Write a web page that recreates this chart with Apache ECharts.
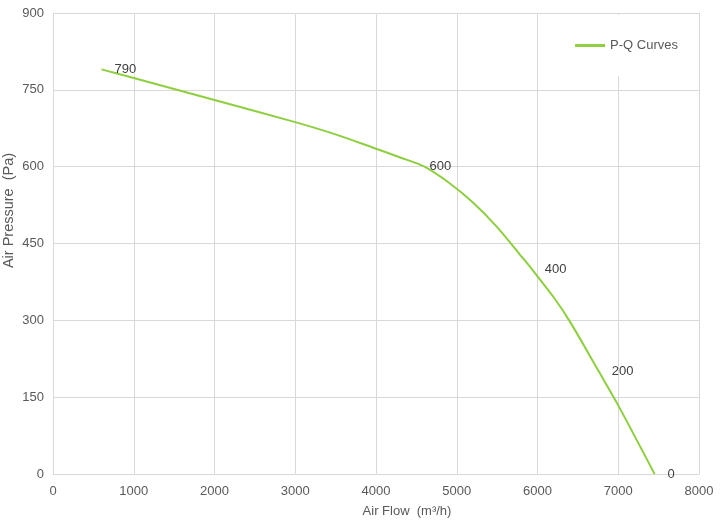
<!DOCTYPE html>
<html>
<head>
<meta charset="utf-8">
<title>P-Q Curves</title>
<script src="https://cdn.jsdelivr.net/npm/echarts@6/dist/echarts.min.js"></script>
<style>
  html, body { margin: 0; padding: 0; background: #fff; }
  #chart { width: 724px; height: 529px; }
</style>
</head>
<body>
<div id="chart"></div>
<script>
// 风量 (m³/h)
var airFlow = [600, 1000, 2000, 3000, 3500, 4000, 4300, 4600, 4900, 5200, 5500, 5800, 5930, 6200, 6400, 6760, 7000, 7450];
// 风压 (Pa)
var airPressure = [790, 773, 730, 687, 663, 635, 618, 600, 569, 530, 482, 425, 400, 345, 298, 200, 134, 0];
// 需要显示数值的点
var labelled = [true, false, false, false, false, false, false, true, false, false, false, false, true, false, false, true, false, true];
var xTicks = [0, 1000, 2000, 3000, 4000, 5000, 6000, 7000, 8000];
var yTicks = [0, 150, 300, 450, 600, 750, 900];

var lineColor = '#8dcf3f';
var textColor = '#595959';
var gridColor = '#d9d9d9';

var chart = echarts.init(document.getElementById('chart'));

var points = airFlow.map(function (x, i) {
  var item = { value: [x, airPressure[i]] };
  if (labelled[i]) {
    item.label = { show: true };
    // 600 这个数字压在曲线上
    if (airPressure[i] === 600) {
      item.label.offset = [-8, 0];
    }
  }
  return item;
});

var option = {
  backgroundColor: '#ffffff',
  animation: false,
  textStyle: { fontFamily: 'Liberation Sans, Arial, sans-serif' },
  grid: {
    left: 53,
    right: 25,
    top: 13,
    bottom: 55,
    containLabel: false,
    outerBoundsMode: 'none'
  },
  legend: {
    right: 26,
    top: 15,
    padding: [24, 20],
    backgroundColor: '#ffffff',
    itemWidth: 30,
    itemHeight: 3,
    itemGap: 5,
    textStyle: { color: textColor, fontSize: 13 },
    data: [{ name: 'P-Q Curves', icon: 'rect' }]
  },
  xAxis: {
    type: 'value',
    min: xTicks[0],
    max: xTicks[xTicks.length - 1],
    interval: xTicks[1] - xTicks[0],
    name: 'Air Flow  (m³/h)',
    nameLocation: 'middle',
    nameGap: 31,
    nameMoveOverlap: false,
    nameTextStyle: { color: textColor, fontSize: 13, padding: [0, 0, 0, 62] },
    axisLine: { lineStyle: { color: gridColor, width: 1 } },
    axisTick: { show: false },
    axisLabel: {
      color: textColor,
      fontSize: 13,
      margin: 11,
      formatter: function (v) { return String(v); }
    },
    splitLine: { show: true, lineStyle: { color: gridColor, width: 1 } }
  },
  yAxis: {
    type: 'value',
    min: yTicks[0],
    max: yTicks[yTicks.length - 1],
    interval: yTicks[1] - yTicks[0],
    name: 'Air Pressure  (Pa)',
    nameLocation: 'middle',
    nameGap: 37,
    nameMoveOverlap: false,
    nameTextStyle: { color: textColor, fontSize: 14.5, padding: [0, 0, 0, 66] },
    axisLine: { show: true, lineStyle: { color: gridColor, width: 1 } },
    axisTick: { show: false },
    axisLabel: { color: textColor, fontSize: 13, margin: 9 },
    splitLine: { show: true, lineStyle: { color: gridColor, width: 1 } }
  },
  series: [{
    name: 'P-Q Curves',
    type: 'line',
    smooth: 0.3,
    symbol: 'circle',
    symbolSize: 0,
    showSymbol: true,
    silent: true,
    itemStyle: { color: lineColor },
    lineStyle: { color: lineColor, width: 2 },
    label: {
      show: false,
      position: 'right',
      distance: 13,
      color: '#404040',
      fontSize: 13,
      formatter: function (p) { return p.value[1]; }
    },
    data: points
  }]
};

chart.setOption(option);
</script>
</body>
</html>
